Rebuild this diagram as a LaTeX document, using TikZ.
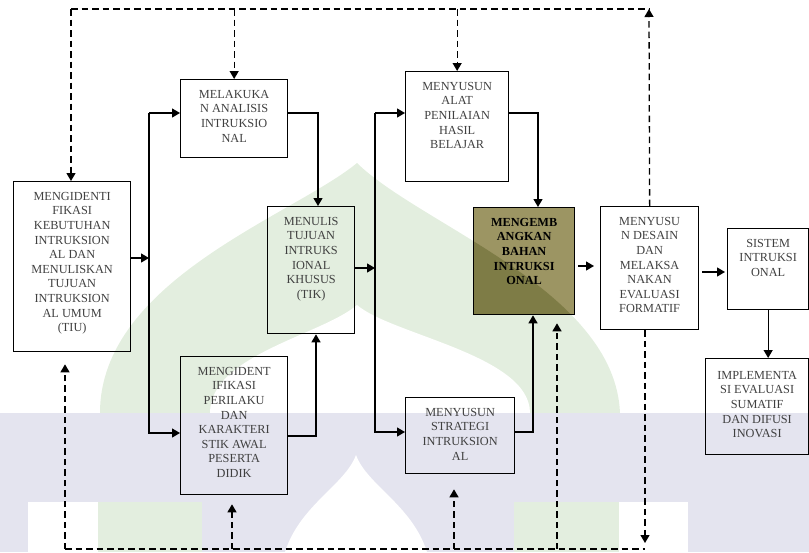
\documentclass[tikz,border=0pt]{standalone}
\usepackage{fontspec}
\setmainfont{Liberation Serif}
\usetikzlibrary{arrows.meta}

\definecolor{wmgreen}{RGB}{227,238,223}
\definecolor{wmlav}{RGB}{228,228,239}
\definecolor{olivelight}{RGB}{156,149,99}
\definecolor{olivedark}{RGB}{126,124,70}

\newcommand{\boxtext}[3]{\parbox[c][#2][t]{#1}{\centering\vspace*{10.5pt}#3}}
\newcommand{\domeouter}{(100,413) .. controls (100,280) and (294,215) .. (357,163) .. controls (420,225) and (615,290) .. (620,413) -- cycle}

\begin{document}
\begin{tikzpicture}[x=1pt,y=-1pt,
	box/.style={draw, line width=1.3pt, inner sep=0pt, anchor=north west, text=black!75, font=\fontsize{12.3}{14.6}\selectfont},
	link/.style={line width=1.3pt},
	arr/.style={link, -{Triangle[length=8pt,width=9pt]}},
	dline/.style={line width=1.3pt, dash pattern=on 6.5pt off 4pt},
	darr/.style={dline, -{Triangle[length=8pt,width=9pt]}}]

	\useasboundingbox (0,0) rectangle (809,552);

	% watermark
	\fill[wmgreen] \domeouter;
	\fill[white] (210,413) .. controls (210,355) and (322,335) .. (357,305) .. controls (392,335) and (530,355) .. (530,413) -- cycle;
	\fill[wmlav] (0,413) rectangle (809,552);
	\fill[white] (28,502) rectangle (688,552);
	\fill[wmgreen] (98,502) rectangle (202,552);
	\fill[wmgreen] (514,502) rectangle (619,552);
	\fill[wmlav] (202,502) rectangle (514,552);
	\fill[white] (285,552) .. controls (300,505) and (345,485) .. (356,455) .. controls (367,485) and (412,505) .. (427,552) -- cycle;

	% olive box background
	\fill[olivelight] (473,207) rectangle (574,314);
	\begin{scope}
		\clip (473,207) rectangle (574,314);
		\fill[olivedark] \domeouter;
	\end{scope}

	\node[box] (kebutuhan) at (13,181) {\boxtext{117pt}{170pt}{MENGIDENTI\\FIKASI\\KEBUTUHAN\\INTRUKSION\\AL DAN\\MENULISKAN\\TUJUAN\\INTRUKSION\\AL UMUM\\(TIU)}};
	\node[box] (analisis) at (180,79) {\boxtext{107pt}{78pt}{MELAKUKA\\N ANALISIS\\INTRUKSIO\\NAL}};
	\node[box] (tik) at (267,206) {\boxtext{87pt}{127pt}{MENULIS\\TUJUAN\\INTRUKS\\IONAL\\KHUSUS\\(TIK)}};
	\node[box] (perilaku) at (180,356) {\boxtext{107pt}{138pt}{MENGIDENT\\IFIKASI\\PERILAKU\\DAN\\KARAKTERI\\STIK AWAL\\PESERTA\\DIDIK}};
	\node[box] (alat) at (405,71) {\boxtext{103pt}{110pt}{MENYUSUN\\ALAT\\PENILAIAN\\HASIL\\BELAJAR}};
	\node[box, text=black, font=\fontsize{12.3}{14.6}\selectfont\bfseries] (bahan) at (473,207) {\boxtext{101pt}{107pt}{MENGEMB\\ANGKAN\\BAHAN\\INTRUKSI\\ONAL}};
	\node[box] (desain) at (600,206) {\boxtext{98pt}{123pt}{MENYUSU\\N DESAIN\\DAN\\MELAKSA\\NAKAN\\EVALUASI\\FORMATIF}};
	\node[box] (sistem) at (727,228) {\boxtext{81pt}{81pt}{SISTEM\\INTRUKSI\\ONAL}};
	\node[box] (implementasi) at (705,358) {\boxtext{103pt}{96pt}{\vspace*{2pt}IMPLEMENTA\\SI EVALUASI\\SUMATIF\\DAN DIFUSI\\INOVASI}};
	\node[box] (strategi) at (405,397) {\boxtext{109pt}{76pt}{MENYUSUN\\STRATEGI\\INTRUKSION\\AL}};

	% solid flow
	\coordinate (t0) at (149,258);
	\coordinate (ta) at (149,113);
	\coordinate (tb) at (149,433);
	\draw[arr] (kebutuhan.east |- t0) -- (t0);
	\draw[arr] (ta) -- (ta -| analisis.west);
	\draw[arr] (ta) -- (tb) -- (tb -| perilaku.west);

	\coordinate (k1) at (318,113);
	\coordinate (k2) at (316,436);
	\draw[arr] (analisis.east |- k1) -- (k1) -- (k1 |- tik.north);
	\draw[arr] (perilaku.east |- k2) -- (k2) -- (k2 |- tik.south);

	\coordinate (s0) at (375,268);
	\coordinate (sa) at (375,113);
	\coordinate (sb) at (375,432);
	\draw[arr] (tik.east |- s0) -- (s0);
	\draw[arr] (sa) -- (sa -| alat.west);
	\draw[arr] (sa) -- (sb) -- (sb -| strategi.west);

	\coordinate (k3) at (538,113);
	\coordinate (k4) at (533,432);
	\draw[arr] (alat.east |- k3) -- (k3) -- (k3 |- bahan.north);
	\draw[arr] (strategi.east |- k4) -- (k4) -- (k4 |- bahan.south);

	\coordinate (k5) at (587,266);
	\coordinate (k6) at (712,272);
	\draw[arr, shorten <=3pt, shorten >=6pt] (bahan.east |- k5) -- (k5 -| desain.west);
	\draw[arr, shorten <=3pt, shorten >=2pt] (desain.east |- k6) -- (k6 -| sistem.west);
	\draw[arr] (sistem.south) -- (sistem.south |- implementasi.north);

	% dashed feedback
	\coordinate (topL) at (71,9);
	\coordinate (topR) at (649,9);
	\draw[dline] (topL) -- (topR);
	\draw[darr] (desain.north) -- (topR);
	\draw[darr] (topL) -- (topL |- kebutuhan.north);
	\draw[darr] (analisis.north |- topL) -- (analisis.north);
	\draw[darr] (alat.north |- topL) -- (alat.north);

	\coordinate (b1) at (65,549);
	\coordinate (b2) at (232,549);
	\coordinate (b3) at (454,549);
	\coordinate (b4) at (557,549);
	\coordinate (bR) at (645,549);
	\draw[dline] (b1) -- (bR);
	\draw[darr, shorten >=6pt] (bR |- desain.south) -- (bR);
	\draw[darr, shorten >=12pt] (b1) -- (b1 |- kebutuhan.south);
	\draw[darr, shorten >=9pt] (b2) -- (b2 |- perilaku.south);
	\draw[darr, shorten >=15pt] (b3) -- (b3 |- strategi.south);
	\draw[darr, shorten >=8pt] (b4) -- (b4 |- bahan.south);

\end{tikzpicture}
\end{document}
